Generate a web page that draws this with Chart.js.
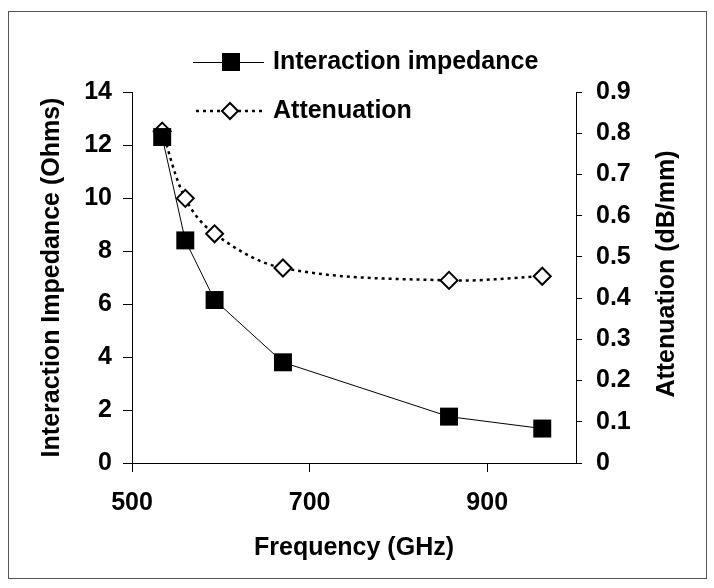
<!DOCTYPE html>
<html>
<head>
<meta charset="utf-8">
<script src="https://cdn.jsdelivr.net/npm/chart.js@4.4.1/dist/chart.umd.min.js"></script>
<style>
  html, body { margin: 0; padding: 0; background: #fff; }
  #wrap { width: 714px; height: 588px; }
</style>
</head>
<body>
<div id="wrap"><canvas id="myChart" width="714" height="588"></canvas></div>
<script>
// values
var frequency = [534, 560, 593, 670, 857, 962];
var impedance = [12.3, 8.4, 6.15, 3.8, 1.75, 1.3];
var attenuation = [0.805, 0.642, 0.556, 0.473, 0.443, 0.453];
var xTickValues = [500, 700, 900];
var seriesNames = ['Interaction impedance', 'Attenuation'];
var axisTitles = ['Frequency (GHz)', 'Interaction Impedance (Ohms)', 'Attenuation (dB/mm)'];

var FONT = "'Liberation Sans', Arial, sans-serif";
var boldFont = { family: FONT, size: 25, weight: 'bold' };

function points(ys) {
    return frequency.map(function (f, i) { return { x: f, y: ys[i] }; });
}

// frame, hand-drawn legend and the right axis title (reads bottom to top)
var extras = {
    id: 'extras',
    beforeDraw: function (chart) {
        var c = chart.ctx;
        c.save();
        c.fillStyle = '#fff';
        c.fillRect(0, 0, chart.width, chart.height);
        c.strokeStyle = '#555';
        c.lineWidth = 1;
        c.strokeRect(8.5, 11.5, 698, 567);
        c.restore();
    },
    afterDraw: function (chart) {
        var c = chart.ctx;
        c.save();
        c.fillStyle = '#000';
        c.strokeStyle = '#000';
        c.font = 'bold 25px ' + FONT;
        c.textBaseline = 'middle';
        c.textAlign = 'left';

        // row 1: solid line + filled square
        c.lineWidth = 1;
        c.beginPath();
        c.moveTo(193, 62.5);
        c.lineTo(264, 62.5);
        c.stroke();
        c.fillRect(222, 53, 18, 18);
        c.fillText(seriesNames[0], 273, 62);

        // row 2: dotted line + open diamond
        c.lineWidth = 2.5;
        c.setLineDash([3, 4]);
        c.beginPath();
        c.moveTo(196, 111);
        c.lineTo(263, 111);
        c.stroke();
        c.setLineDash([]);
        c.lineWidth = 2;
        c.beginPath();
        c.moveTo(230, 103);
        c.lineTo(238, 111);
        c.lineTo(230, 119);
        c.lineTo(222, 111);
        c.closePath();
        c.fillStyle = '#fff';
        c.fill();
        c.stroke();
        c.fillStyle = '#000';
        c.fillText(seriesNames[1], 273, 111);

        // right axis title
        c.translate(667, 274);
        c.rotate(-Math.PI / 2);
        c.textAlign = 'center';
        c.fillText(axisTitles[2], 0, 0);
        c.restore();
    }
};

var ctx = document.getElementById('myChart').getContext('2d');
var myChart = new Chart(ctx, {
    type: 'scatter',
    data: {
        datasets: [{
            label: seriesNames[0],
            data: points(impedance),
            yAxisID: 'y',
            showLine: true,
            borderColor: '#000',
            borderWidth: 1,
            backgroundColor: '#000',
            pointStyle: 'rect',
            pointRadius: 12.7,
            pointBorderWidth: 0,
            tension: 0
        }, {
            label: seriesNames[1],
            data: points(attenuation),
            yAxisID: 'y1',
            showLine: true,
            borderColor: '#000',
            borderWidth: 2.5,
            borderDash: [3, 4],
            backgroundColor: '#fff',
            pointStyle: 'rectRot',
            pointRadius: 8.5,
            pointBorderWidth: 2,
            pointBorderColor: '#000',
            tension: 0.35
        }]
    },
    options: {
        responsive: false,
        animation: false,
        layout: { padding: { top: 92, left: 0, right: 0, bottom: 0 } },
        plugins: {
            legend: { display: false },
            tooltip: { enabled: false }
        },
        scales: {
            x: {
                type: 'linear',
                position: 'bottom',
                min: 500,
                max: 1000,
                afterBuildTicks: function (s) {
                    s.ticks = xTickValues.map(function (v) { return { value: v }; });
                },
                ticks: { color: '#000', font: boldFont, padding: 16, callback: function (v) { return String(v); } },
                grid: { drawOnChartArea: false, tickLength: 9, color: '#000' },
                border: { color: '#000', width: 1 },
                title: { display: true, text: axisTitles[0], color: '#000', font: boldFont, padding: { top: 0, bottom: 25 } },
                afterFit: function (s) { s.height = 125; }
            },
            y: {
                position: 'left',
                min: 0,
                max: 14,
                ticks: { stepSize: 2, color: '#000', font: boldFont, padding: 11 },
                grid: { drawOnChartArea: false, tickLength: 9, color: '#000' },
                border: { color: '#000', width: 1 },
                title: { display: true, text: axisTitles[1], color: '#000', font: boldFont, padding: { top: 37, bottom: 0 } },
                afterFit: function (s) { s.width = 132; }
            },
            y1: {
                position: 'right',
                min: 0,
                max: 0.9,
                ticks: { stepSize: 0.1, color: '#000', font: boldFont, padding: 14 },
                grid: { drawOnChartArea: false, tickLength: 6, color: '#000' },
                border: { color: '#000', width: 1 },
                afterFit: function (s) { s.width = 138; }
            }
        }
    },
    plugins: [extras]
});
</script>
</body>
</html>
